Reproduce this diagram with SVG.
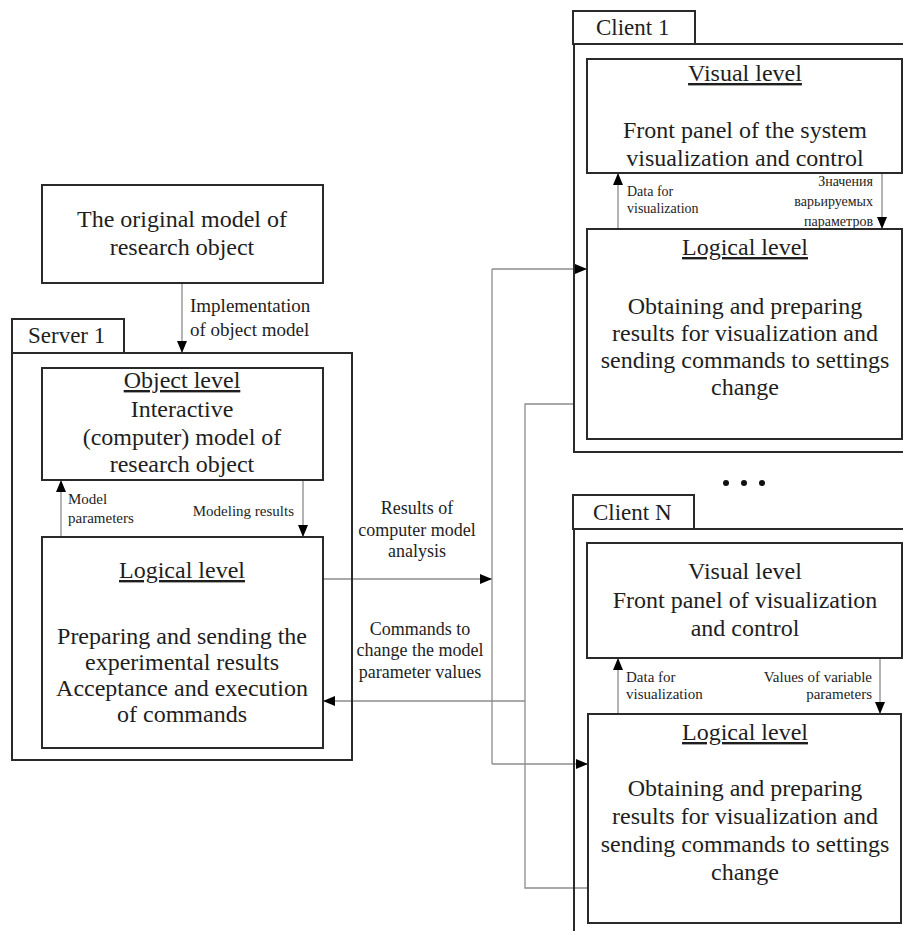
<svg xmlns="http://www.w3.org/2000/svg" width="903" height="931" viewBox="0 0 903 931">
<defs>
<style>
.box{fill:#fff;stroke:#2a2a2a;stroke-width:2}
.frame{fill:none;stroke:#2a2a2a;stroke-width:2}
.con{fill:none;stroke:#8c8c8c;stroke-width:1.3}
text{font-family:"Liberation Serif","Times New Roman",serif;fill:#1e1e1e}
.big{font-size:24px;text-anchor:middle}
.tab{font-size:23px}
.mid{font-size:18px;text-anchor:middle}
.sm{font-size:15px}
.xs{font-size:14px}
.u{text-decoration:underline}
</style>
<marker id="ah" viewBox="0 0 12 10" refX="12" refY="5" markerWidth="12" markerHeight="10" markerUnits="userSpaceOnUse" orient="auto">
<path d="M0,0 L12,5 L0,10 z" fill="#000"/>
</marker>
</defs>
<g id="connectors">
<line class="con" x1="182" y1="283" x2="182" y2="353" marker-end="url(#ah)"/>
<line class="con" x1="61" y1="537" x2="61" y2="480" marker-end="url(#ah)"/>
<line class="con" x1="303" y1="480" x2="303" y2="537" marker-end="url(#ah)"/>
<line class="con" x1="323" y1="579" x2="492" y2="579" marker-end="url(#ah)"/>
<line class="con" x1="525" y1="701" x2="323" y2="701" marker-end="url(#ah)"/>
<line class="con" x1="492" y1="269" x2="492" y2="764"/>
<line class="con" x1="492" y1="269" x2="587" y2="269" marker-end="url(#ah)"/>
<line class="con" x1="492" y1="764" x2="588" y2="764" marker-end="url(#ah)"/>
<polyline class="con" points="574,404 525,404 525,888 588,888"/>
<line class="con" x1="618" y1="229" x2="618" y2="173" marker-end="url(#ah)"/>
<line class="con" x1="882" y1="173" x2="882" y2="229" marker-end="url(#ah)"/>
<line class="con" x1="618" y1="714" x2="618" y2="658" marker-end="url(#ah)"/>
<line class="con" x1="880" y1="658" x2="880" y2="714" marker-end="url(#ah)"/>
</g>
<g id="connector-labels">
<text class="sm" x="190" y="312" style="font-size:19px">Implementation</text>
<text class="sm" x="190" y="336" style="font-size:19px">of object model</text>
<text class="sm" x="68" y="504">Model</text>
<text class="sm" x="68" y="523">parameters</text>
<text class="sm" x="294" y="516" text-anchor="end">Modeling results</text>
<text class="mid" x="417" y="514">Results of</text>
<text class="mid" x="417" y="536">computer model</text>
<text class="mid" x="417" y="557">analysis</text>
<text class="mid" x="420" y="635">Commands to</text>
<text class="mid" x="420" y="656">change the model</text>
<text class="mid" x="420" y="678">parameter values</text>
<text class="xs" x="627" y="196">Data for</text>
<text class="xs" x="627" y="213">visualization</text>
<text class="xs" x="873" y="186" text-anchor="end">Значения</text>
<text class="xs" x="873" y="206" text-anchor="end">варьируемых</text>
<text class="xs" x="873" y="226" text-anchor="end">параметров</text>
<text class="sm" x="626" y="682">Data for</text>
<text class="sm" x="626" y="699">visualization</text>
<text class="sm" x="872" y="682" text-anchor="end">Values of variable</text>
<text class="sm" x="872" y="699" text-anchor="end">parameters</text>
</g>
<g id="original-model">
<rect class="box" x="42" y="185" width="281" height="98"/>
<text class="big" x="182" y="227">The original model of</text>
<text class="big" x="182" y="255">research object</text>
</g>
<g id="server1">
<rect class="box" x="12" y="319" width="112" height="34"/>
<text class="tab" x="28" y="343">Server 1</text>
<rect class="frame" x="12" y="353" width="340" height="407"/>
</g>
<g id="server-object-level">
<rect class="box" x="42" y="368" width="281" height="112"/>
<text class="big u" x="182" y="388">Object level</text>
<text class="big" x="182" y="417">Interactive</text>
<text class="big" x="182" y="445">(computer) model of</text>
<text class="big" x="182" y="472">research object</text>
</g>
<g id="server-logical-level">
<rect class="box" x="42" y="537" width="281" height="211"/>
<text class="big u" x="182" y="578">Logical level</text>
<text class="big" x="182" y="644">Preparing and sending the</text>
<text class="big" x="182" y="670">experimental results</text>
<text class="big" x="182" y="696">Acceptance and execution</text>
<text class="big" x="182" y="722">of commands</text>
</g>
<g id="client1">
<rect class="box" x="573" y="11" width="122" height="33"/>
<text class="tab" x="596" y="35">Client 1</text>
<path class="frame" d="M906,44 H574 V452 H906"/>
</g>
<g id="client1-visual-level">
<rect class="box" x="587" y="59" width="315" height="114"/>
<text class="big u" x="745" y="81">Visual level</text>
<text class="big" x="745" y="138">Front panel of the system</text>
<text class="big" x="745" y="166">visualization and control</text>
</g>
<g id="client1-logical-level">
<rect class="box" x="587" y="229" width="315" height="210"/>
<text class="big u" x="745" y="255">Logical level</text>
<text class="big" x="745" y="314">Obtaining and preparing</text>
<text class="big" x="745" y="341">results for visualization and</text>
<text class="big" x="745" y="368">sending commands to settings</text>
<text class="big" x="745" y="395">change</text>
</g>
<g id="ellipsis">
<circle cx="726" cy="483" r="3" fill="#111"/>
<circle cx="744" cy="483" r="3" fill="#111"/>
<circle cx="762" cy="483" r="3" fill="#111"/>
</g>
<g id="clientN">
<rect class="box" x="573" y="495" width="121" height="34"/>
<text class="tab" x="593" y="520">Client N</text>
<path class="frame" d="M906,529 H574 V935"/>
</g>
<g id="clientN-visual-level">
<rect class="box" x="587" y="543" width="315" height="115"/>
<text class="big" x="745" y="579">Visual level</text>
<text class="big" x="745" y="608">Front panel of visualization</text>
<text class="big" x="745" y="636">and control</text>
</g>
<g id="clientN-logical-level">
<rect class="box" x="588" y="714" width="313" height="209"/>
<text class="big u" x="745" y="740">Logical level</text>
<text class="big" x="745" y="796">Obtaining and preparing</text>
<text class="big" x="745" y="824">results for visualization and</text>
<text class="big" x="745" y="852">sending commands to settings</text>
<text class="big" x="745" y="880">change</text>
</g>
</svg>
